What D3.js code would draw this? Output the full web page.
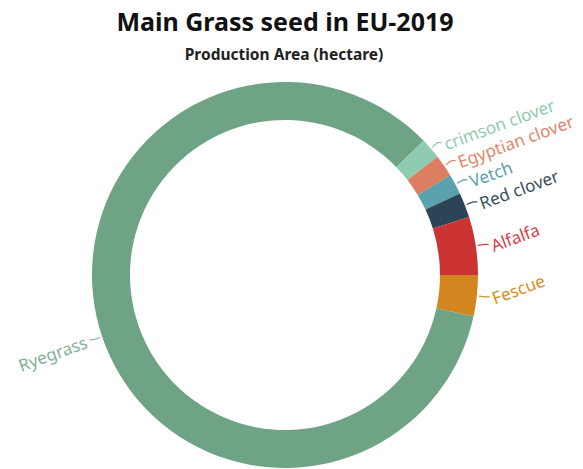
<!DOCTYPE html>
<html>
<head>
<meta charset="utf-8">
<script src="https://cdn.jsdelivr.net/npm/d3@7"></script>
<style>
  body { margin: 0; background: #fff; }
  text { font-family: "Noto Sans", "Open Sans", sans-serif; }
</style>
</head>
<body>
<div id="chart"></div>
<script>
/* Donut chart: main grass seed in EU 2019 */

const width = 583,
  height = 469;

// production area (hectare), order = clockwise from 3 o'clock
const crops = ["Fescue", "Ryegrass", "crimson clover", "Egyptian clover", "Vetch", "Red clover", "Alfalfa"];
const areas = [6900, 168700, 3500, 3700, 3400, 4200, 9700];
const sliceColors = ["#d3861f", "#6fa386", "#8fcbb0", "#dd7e63", "#5aa0ad", "#2c4556", "#cc3434"];
const labelColors = ["#d3901f", "#7fb097", "#8fcbb0", "#e0866a", "#5aa0ad", "#3a4f5e", "#d8404a"];

const data = crops.map((c, i) => ({ crop: c, area: areas[i] }));

const cx = 285, cy = 275,
  outerR = 193, innerR = 155;

const svg = d3.select("#chart")
  .append("svg")
  .attr("width", width)
  .attr("height", height)
  .attr("viewBox", [0, 0, width, height]);

svg.append("text")
  .attr("x", 285)
  .attr("y", 31)
  .attr("text-anchor", "middle")
  .attr("font-size", 25)
  .attr("font-weight", "bold")
  .attr("fill", "#111")
  .text("Main Grass seed in EU-2019");

svg.append("text")
  .attr("x", 284)
  .attr("y", 60)
  .attr("text-anchor", "middle")
  .attr("font-size", 15.5)
  .attr("font-weight", "bold")
  .attr("fill", "#222")
  .text("Production Area (hectare)");

let pie = d3.pie()
  .value(d => d.area)
  .sort(null)
  .startAngle(Math.PI / 2)
  .endAngle(Math.PI / 2 + 2 * Math.PI);

let arc = d3.arc()
  .innerRadius(innerR)
  .outerRadius(outerR);

const g = svg.append("g")
  .attr("transform", `translate(${cx},${cy})`);

const arcs = pie(data);

g.selectAll("path.slice")
  .data(arcs)
  .join("path")
  .attr("class", "slice")
  .attr("d", arc)
  .attr("fill", (d, i) => sliceColors[i]);

// label lines + rotated labels (radial tick, then short horizontal tick)
const polar = (a, r) => [r * Math.sin(a), -r * Math.cos(a)];

arcs.forEach((d, i) => {
  let mid = (d.startAngle + d.endAngle) / 2;
  let right = Math.sin(mid) >= 0;
  // left-side label sits a little lower in the original
  let shift = right ? 0 : -0.05;
  let p0 = polar(mid + shift, outerR + 2);
  let p1 = polar(mid + shift, outerR + 9);
  let p2 = [p1[0] + (right ? 4 : -4), p1[1]];

  g.append("polyline")
    .attr("points", [p0, p1, p2].map(p => p.join(",")).join(" "))
    .attr("fill", "none")
    .attr("stroke", labelColors[i])
    .attr("stroke-width", 1.2);

  let tx = p2[0] + (right ? 3 : -3);
  let ty = p2[1] + 2;
  g.append("text")
    .attr("transform", `translate(${tx},${ty}) rotate(-20)`)
    .attr("text-anchor", right ? "start" : "end")
    .attr("dy", "0.35em")
    .attr("font-size", 17)
    .attr("fill", labelColors[i])
    .text(d.data.crop);
});
</script>
</body>
</html>
